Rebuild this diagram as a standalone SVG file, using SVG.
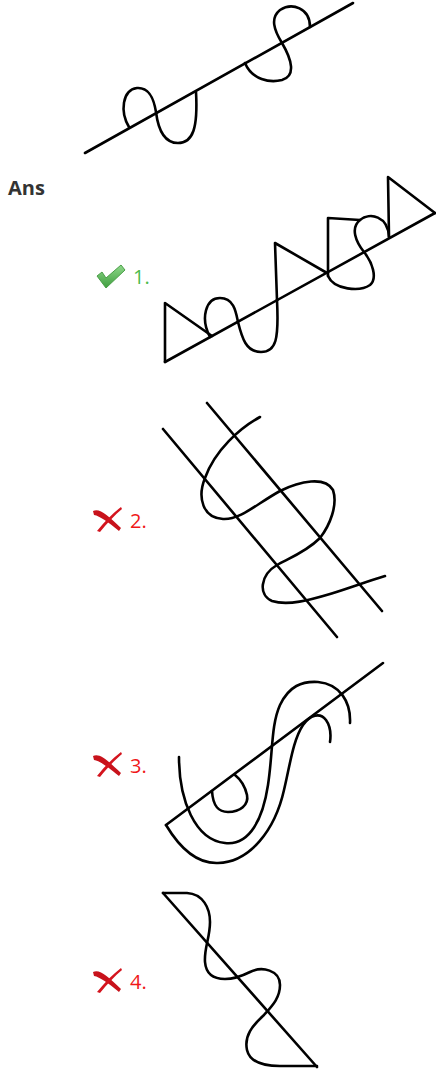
<svg xmlns="http://www.w3.org/2000/svg" width="436" height="1075" viewBox="0 0 436 1075">
<style>
.ln{fill:none;stroke:#000;stroke-width:2.6;stroke-linecap:round;stroke-linejoin:round}
.lbl{font-family:"Open Sans","Noto Sans","Liberation Sans",sans-serif;font-size:20px}
.ok{fill:#4cbb4c}
.bad{fill:#f01818}
.ans{font-family:"Open Sans","Noto Sans","Liberation Sans",sans-serif;font-size:20px;font-weight:bold;fill:#333}
</style>
<defs>
<linearGradient id="gChk" x1="0" y1="0" x2="0" y2="1">
<stop offset="0" stop-color="#8fd88a"/>
<stop offset="1" stop-color="#3f9e3f"/>
</linearGradient>
<g id="xIcon">
<path d="M0,4 C7,1 14,8 28,21 L26,24 C15,15 7,9 1,8 Z" fill="#c8121b"/>
<path d="M28,0 C20,6 12,14 4,24 L7,25 C14,16 22,8 29,2 Z" fill="#d4141e"/>
</g>
</defs>
<rect width="436" height="1075" fill="#fff"/>

<g id="question">
<path class="ln" d="M85,153 L353,3"/>
<path class="ln" d="M129,127 C120,112 122,90 137,88 C150,87 154,100 156,112 C158,128 164,143 178,143 C193,143 198,128 196,92"/>
<path class="ln" d="M245,63 C252,80 270,83 282,80 C296,76 292,60 282,43 C274,30 270,18 280,10 C292,2 310,8 310,27"/>
</g>

<text id="ans" class="ans" x="8" y="195">Ans</text>

<g id="option1">
<path d="M97,276 L102,272 L106,278 L121,265 L125,270 L106,288 Z" fill="url(#gChk)" stroke="#4a9e48" stroke-width="1" stroke-linejoin="round"/>
<text class="lbl ok" x="133" y="284">1.</text>
<path class="ln" d="M165,362 L435,213"/>
<path class="ln" d="M212,336 L165,303 L165,362"/>
<path class="ln" d="M210,337 C200,318 206,298 220,298 C234,298 236,312 238,322 C242,338 246,352 261,352 C276,352 279,340 277,300"/>
<path class="ln" d="M277,300 L275,243 L327,273"/>
<path class="ln" d="M328,276 L328,218 L360,220"/>
<path class="ln" d="M328,276 C334,290 360,292 370,285 C378,278 372,262 364,252 C356,242 350,228 360,220 C370,212 388,216 389,237"/>
<path class="ln" d="M389,237 L388,177 L435,213"/>
</g>

<g id="option2">
<use href="#xIcon" x="93" y="507"/>
<text class="lbl bad" x="130" y="528">2.</text>
<path class="ln" d="M163,429 L337,637"/>
<path class="ln" d="M207,403 L382,611"/>
<path class="ln" d="M260,417 C240,428 215,450 205,478 C197,498 203,518 223,519 C240,520 255,505 280,491 C300,481 325,476 333,490 C338,505 330,525 320,538 C305,553 285,560 277,565 C260,575 258,595 272,601 C288,606 310,600 330,594 C350,588 365,582 385,576"/>
</g>

<g id="option3">
<use href="#xIcon" x="93" y="752"/>
<text class="lbl bad" x="130" y="773">3.</text>
<path class="ln" d="M166,825 L383,663"/>
<path class="ln" d="M179,757 C179,800 195,840 225,843 C250,846 263,818 268,785 C273,752 271,725 280,705 C289,686 302,681 318,682 C340,684 351,702 350,723"/>
<path class="ln" d="M166,825 C178,845 195,864 218,863 C250,862 275,830 284,790 C290,765 293,740 303,725 C310,715 320,712 326,720 C331,727 331,735 330,742"/>
<path class="ln" d="M212,791 C213,807 219,812 228,812 C240,812 249,805 247,795 C245,786 240,779 235,775"/>
</g>

<g id="option4">
<use href="#xIcon" x="93" y="968"/>
<text class="lbl bad" x="130" y="989">4.</text>
<path class="ln" d="M163,893 L317,1067"/>
<path class="ln" d="M163,893 L187,893 C203,894 210,908 210,922 C210,938 204,948 205,962 C206,974 213,979 225,979 C235,979 242,976 250,972 C262,966 280,970 280,985 C280,998 272,1006 264,1015 C252,1026 244,1036 247,1050 C250,1063 265,1066 280,1066 L317,1066"/>
</g>
</svg>
